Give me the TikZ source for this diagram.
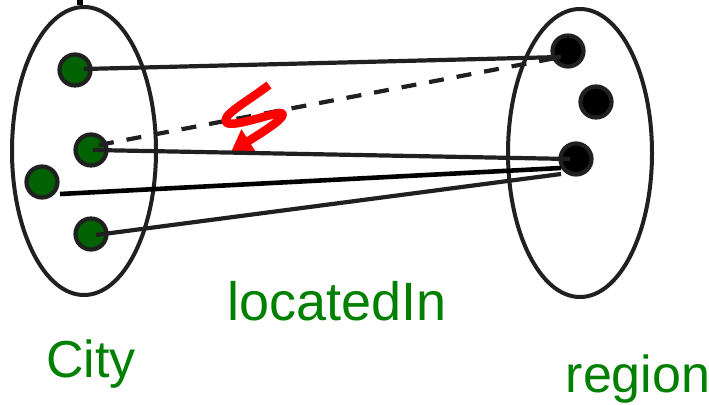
\documentclass[tikz,border=0pt]{standalone}
\usepackage{fontspec}
\setmainfont{Liberation Sans}
\definecolor{dotgreen}{RGB}{0,98,0}
\definecolor{labelgreen}{RGB}{0,128,0}
\definecolor{linegray}{RGB}{32,32,32}
\tikzset{
  setoval/.style={draw=linegray, line width=4pt, ellipse, inner sep=0pt, minimum width=144pt, minimum height=288pt},
  citydot/.style={circle, draw=linegray, line width=4.2pt, fill=dotgreen, inner sep=0pt, minimum size=31pt},
  regiondot/.style={circle, draw=linegray, line width=4.2pt, fill=black, inner sep=0pt, minimum size=31pt},
  settext/.style={text=labelgreen, anchor=base west, font=\fontsize{52pt}{52pt}\selectfont, inner sep=0pt},
  linktext/.style={settext, font=\fontsize{54pt}{54pt}\selectfont},
  link/.style={draw=linegray, line width=4.2pt},
}
\usetikzlibrary{shapes.geometric,arrows.meta}
\begin{document}
\begin{tikzpicture}[x=1pt, y=-1pt]
  \useasboundingbox (0,0) rectangle (709,404);
  \node[setoval] (cityset) at (84,151) {};
  \node[setoval] (regionset) at (580,153) {};
  \coordinate (stub) at (80,0);
  \draw[black, line width=5.5pt] (stub) -- (cityset.north -| stub);
  \foreach \n/\x/\y in {cityA/75/70, cityB/91/150, cityC/42/182, cityD/91/234}
    \node[citydot] (\n) at (\x,\y) {};
  \foreach \n/\x/\y in {regionA/568/51, regionB/596/102, regionC/576/159}
    \node[regiondot] (\n) at (\x,\y) {};
  % line ends sit inside the dots
  \coordinate (a1) at ([shift={(9,-1)}]cityA.center);
  \coordinate (a2) at ([shift={(-7,6)}]regionA.center);
  \coordinate (b1) at ([shift={(8,-5)}]cityB.center);
  \coordinate (b2) at ([shift={(2,0)}]cityB.center);
  \coordinate (b3) at ([shift={(-6,0)}]regionC.center);
  \coordinate (c1) at ([shift={(18,12)}]cityC.center);
  \coordinate (c2) at ([shift={(-15,9)}]regionC.center);
  \coordinate (d1) at ([shift={(5,1)}]cityD.center);
  \coordinate (d2) at ([shift={(-15,15)}]regionC.center);
  \draw[link] (a1) -- (a2);
  \draw[link, dash pattern=on 15pt off 13pt] (b1) -- (a2);
  % red zigzag
  \coordinate (zigstart) at (269,85);
  \coordinate (zigend) at (231,152);
  \draw[red, line width=8.5pt, line join=round, -{Triangle[length=21pt, width=26pt]}]
    (zigstart) .. controls (245,103) and (222,115) .. (226,122)
    .. controls (230,129) and (272,113) .. (281,113)
    .. controls (288,115) and (272,126) .. (258,135) -- (zigend);
  \draw[link] (b2) -- (b3);
  \draw[link, black, line width=4.6pt] (c1) -- (c2);
  \draw[link] (d1) -- (d2);
  \node[linktext] (locatedlabel) at (227.5,320) {locatedIn};
  \node[settext] (citylabel) at (46,377) {City};
  \node[settext] (regionlabel) at (565.5,392) {region};
\end{tikzpicture}
\end{document}
